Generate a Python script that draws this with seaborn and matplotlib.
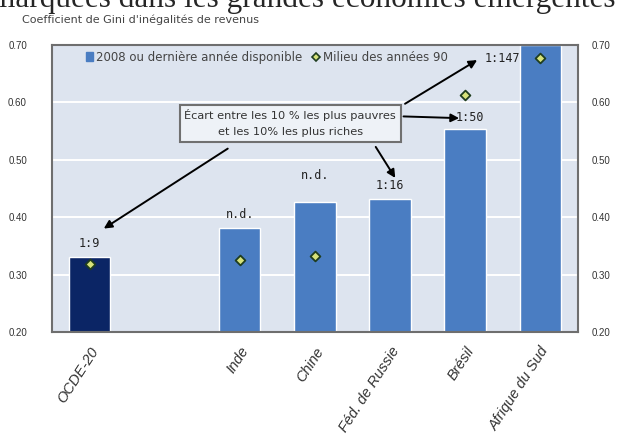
import matplotlib
matplotlib.use("Agg")
import matplotlib.pyplot as plt
from matplotlib.patches import Patch
from matplotlib.lines import Line2D
import pandas as pd
import seaborn as sns

# data
countries = ["OCDE-20", "", "Inde", "Chine", "Féd. de Russie", "Brésil", "Afrique du Sud"]
gini_2008 = [0.330, None, 0.381, 0.426, 0.432, 0.553, 0.700]
gini_mid90 = [0.319, None, 0.326, 0.333, None, 0.612, 0.677]
ratio_labels = ["1:9", "", "n.d.", "n.d.", "1:16", "1:50", "1:147"]
yticks = [0.20, 0.30, 0.40, 0.50, 0.60, 0.70]

df = pd.DataFrame({"pays": countries, "g2008": gini_2008, "g90": gini_mid90})
bars = df.dropna(subset=["g2008"])
pts = df.dropna(subset=["g90"])

dark = "#0b2565"
mid = "#4a7dc2"
bg = "#dde4ef"
palette = {c: (dark if c == "OCDE-20" else mid) for c in bars["pays"]}

sns.set_style("white")
plt.rcParams["font.family"] = ["Liberation Sans", "DejaVu Sans"]

fig = plt.figure(figsize=(6.26, 4.41), dpi=100)
ax = fig.add_axes([0.083, 0.247, 0.84, 0.652])
ax.set_facecolor(bg)

sns.barplot(data=bars, x="pays", y="g2008", hue="pays", palette=palette,
            order=countries, width=0.55, legend=False, ax=ax, saturation=1)
sns.stripplot(data=pts, x="pays", y="g90", order=countries, jitter=False,
              marker="D", size=5, color="#d6e27a", edgecolor="#1f3d1f",
              linewidth=1.3, ax=ax, zorder=5)

ax.set_ylim(0.20, 0.70)
ax.set_xlim(-0.5, 6.5)
ax.set_yticks(yticks)
ax.set_yticklabels([f"{t:.2f}" for t in yticks], fontsize=7, color="#333333")
for t in yticks[1:-1]:
    ax.axhline(t, color="white", lw=1.4, zorder=0)
ax.set_axisbelow(True)
ax.tick_params(axis="y", length=0, pad=18)
ax.set_xticks(range(len(countries)))
ax.set_xticklabels(countries, rotation=57, ha="right", rotation_mode="anchor",
                   fontsize=10.5, style="italic", color="#333333")
ax.tick_params(axis="x", length=0, pad=9)
ax.set_xlabel("")
ax.set_ylabel("")
for s in ax.spines.values():
    s.set_color("#6e6e6e")
    s.set_linewidth(1.5)

ax2 = ax.twinx()
ax2.set_ylim(0.20, 0.70)
ax2.set_yticks(yticks)
ax2.set_yticklabels([f"{t:.2f}" for t in yticks], fontsize=7, color="#333333")
ax2.tick_params(length=0, pad=10)
for s in ax2.spines.values():
    s.set_visible(False)

# ratio labels above bars
lab_kw = dict(ha="center", va="bottom", fontsize=8.5, family="DejaVu Sans Mono",
              color="#222222")
for i, lab in enumerate(ratio_labels):
    if not lab:
        continue
    if lab == "1:147":
        ax.text(5.5, 0.664, lab, **lab_kw)
    elif lab == "1:50":
        ax.text(5.07, 0.562, lab, **lab_kw)
    elif i == 3:
        ax.text(i, gini_2008[i] + 0.035, lab, **lab_kw)
    else:
        ax.text(i, gini_2008[i] + 0.012, lab, **lab_kw)

# callout box with arrows
ax.text(2.67, 0.563, "Écart entre les 10 % les plus pauvres\net les 10% les plus riches",
        ha="center", va="center", fontsize=8.2, family="DejaVu Sans",
        color="#333333", zorder=6, linespacing=1.75,
        bbox=dict(boxstyle="square,pad=0.4", fc="#eef2f7", ec="#707070", lw=1.5))
arr = dict(arrowstyle="-|>", color="black", lw=1.4, mutation_scale=12,
           shrinkA=0, shrinkB=0)
ax.annotate("", xy=(0.19, 0.38), xytext=(1.84, 0.519), arrowprops=arr, zorder=7)
ax.annotate("", xy=(4.07, 0.468), xytext=(3.81, 0.522), arrowprops=arr, zorder=7)
ax.annotate("", xy=(4.92, 0.572), xytext=(4.18, 0.575), arrowprops=arr, zorder=7)
ax.annotate("", xy=(5.16, 0.673), xytext=(4.2, 0.597), arrowprops=arr, zorder=7)

handles = [Patch(color=mid, label="2008 ou dernière année disponible"),
           Line2D([], [], marker="D", ls="", markersize=4.5, markerfacecolor="#d6e27a",
                  markeredgecolor="#1f3d1f", markeredgewidth=1.2,
                  label="Milieu des années 90")]
leg = ax.legend(handles=handles, loc="center left", bbox_to_anchor=(0.055, 0.956),
                ncol=2, frameon=False, handlelength=0.6, handletextpad=0.25,
                columnspacing=0.9, borderaxespad=0,
                prop={"family": "DejaVu Sans", "size": 8.5})
for t in leg.get_texts():
    t.set_color("#444444")

fig.text(0.035, 0.956, "Coefficient de Gini d'inégalités de revenus", fontsize=8,
         family="DejaVu Sans", color="#444444", va="center")
fig.text(-0.014, 0.983, "marquées dans les grandes économies émergentes",
         fontsize=22.5, family="Liberation Serif", va="baseline")

fig.savefig("out.png", dpi=100, facecolor="white")
